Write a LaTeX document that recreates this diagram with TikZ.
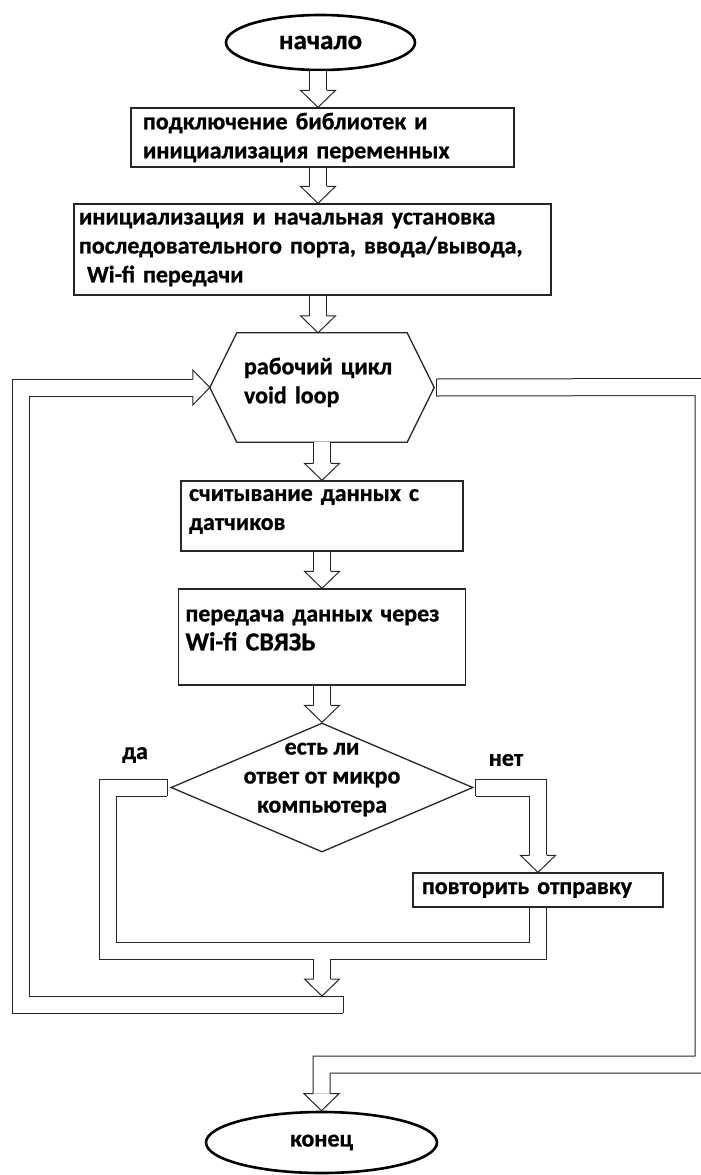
\documentclass[tikz,border=0pt]{standalone}
\usepackage{fontspec}
\setmainfont{Carlito}[BoldFeatures={FakeBold=0.8}]
\usetikzlibrary{shapes,arrows,positioning,calc}

\begin{document}
\begin{tikzpicture}[x=1pt,y=-1pt,
  every node/.style={font=\fontsize{24}{29}\selectfont\bfseries, text=black},
  outline/.style={draw=black!85, line width=1.3pt},
  term/.style={ellipse, draw=black, line width=2.6pt, inner sep=0pt},
  block/.style={rectangle, outline, align=left, inner ysep=0pt},
  pipe/.style={draw=black!85, line width=1pt, double=white, double distance=16pt},
  capline/.style={draw=black!85, line width=1pt},
  pics/head/.style={code={\draw[capline] (-8.5,-17) -- (-17.5,-17) -- (0,0) -- (17.5,-17) -- (8.5,-17);}}]
\useasboundingbox (0,0) rectangle (701,1175);
\coordinate (col) at (318,0);

\node[term, minimum width=189pt, minimum height=55pt, font=\fontsize{27}{29}\selectfont\bfseries] (start) at (320.5,42.5) {начало};
\node[block, minimum height=59pt, inner xsep=12pt, text width=359pt] (lib) at (322.5,137.5) {подключение библиотек и\\инициализация переменных};
\node[block, minimum height=91pt, inner xsep=5pt, text width=467pt] (init) at (312.5,249.5) {инициализация и начальная установка\\последовательного порта, ввода/вывода,\\\hspace*{8pt}Wi-fi передачи};
\node[minimum width=170pt, minimum height=109pt, inner xsep=7pt, text width=156pt, align=left, text depth=43pt] (loop) at (322,387.5) {рабочий цикл\\void loop};
\coordinate (loopL) at ([xshift=-27pt]loop.west);
\coordinate (loopR) at ([xshift=27pt]loop.east);
\draw[outline] (loop.north west) -- (loop.north east) -- (loopR) -- (loop.south east) -- (loop.south west) -- (loopL) -- cycle;
\node[block, minimum height=70pt, inner xsep=8pt, text width=266pt, text depth=42pt] (read) at (322,516) {считывание данных с\\датчиков};
\node[block, minimum height=96pt, inner xsep=7pt, text width=273pt, text depth=43pt] (send) at (322,637) {передача данных через\\{\fontsize{26}{29}\selectfont Wi-fi СВЯЗЬ}};
\node[diamond, outline, minimum width=302pt, minimum height=129pt, inner sep=0pt] (ask) at (322,787.5) {};
\node[align=center] (asktext) at (322,779.5) {есть ли\\ответ от микро\\компьютера};
\node (yes) at (135,755) {да};
\node (no) at (506,760) {нет};
\node[block, minimum height=34pt, inner xsep=9pt, text width=232pt] (retry) at (538,890) {повторить отправку};
\node[term, minimum width=231pt, minimum height=61pt] (stop) at (321.5,1142.5) {конец};

\coordinate (yescap) at ([xshift=-3pt]ask.west);
\coordinate (nocap) at ([xshift=2pt]ask.east);
\coordinate (rcap) at ([xshift=2pt]loopR);
\coordinate (ybot) at (108,950.5);
\coordinate (merge) at (322,958.6);
\coordinate (backcap) at (343,1004.5);
\coordinate (backin) at (322,996);
\coordinate (backcorner) at (20.5,1004.5);
\coordinate (rtop) at (703.5,387);
\coordinate (rbot) at (703.5,1064.5);

\draw[pipe, shorten >=17pt] (start.south -| col) -- (lib.north -| col);
\draw[pipe, shorten >=17pt] (lib.south -| col) -- (init.north -| col);
\draw[pipe, shorten >=17pt] (init.south -| col) -- (loop.north -| col);
\draw[pipe, shorten >=17pt] (loop.south) -- (read.north);
\draw[pipe, shorten >=17pt] (read.south) -- (send.north);
\draw[pipe, shorten >=17pt] (send.south) -- (ask.north);
\draw[pipe, shorten >=17pt] (nocap) -| (retry.north);
\draw[pipe] (yescap) -| (ybot) -| (retry.south);
\draw[pipe, shorten >=17pt] (merge) -- (backin);
\draw[pipe, shorten >=17pt] (backcap) -- (backcorner) |- (loopL);
\draw[pipe, shorten >=17pt] (rcap) -- (rtop) -- (rbot) -| (stop.north);

\pic at (lib.north -| col) {head};
\pic at (init.north -| col) {head};
\pic at (loop.north -| col) {head};
\pic at (read.north) {head};
\pic at (send.north) {head};
\pic at (ask.north) {head};
\pic at (retry.north) {head};
\pic at (backin) {head};
\pic[rotate=90] at (loopL) {head};
\pic at (stop.north) {head};

\draw[capline] ([yshift=8.5pt]yescap) -- ([yshift=-8.5pt]yescap);
\draw[capline] ([yshift=8.5pt]nocap) -- ([yshift=-8.5pt]nocap);
\draw[capline] ([yshift=8.5pt]rcap) -- ([yshift=-8.5pt]rcap);
\draw[capline] ([yshift=8.5pt]backcap) -- ([yshift=-8.5pt]backcap);
\end{tikzpicture}
\end{document}
